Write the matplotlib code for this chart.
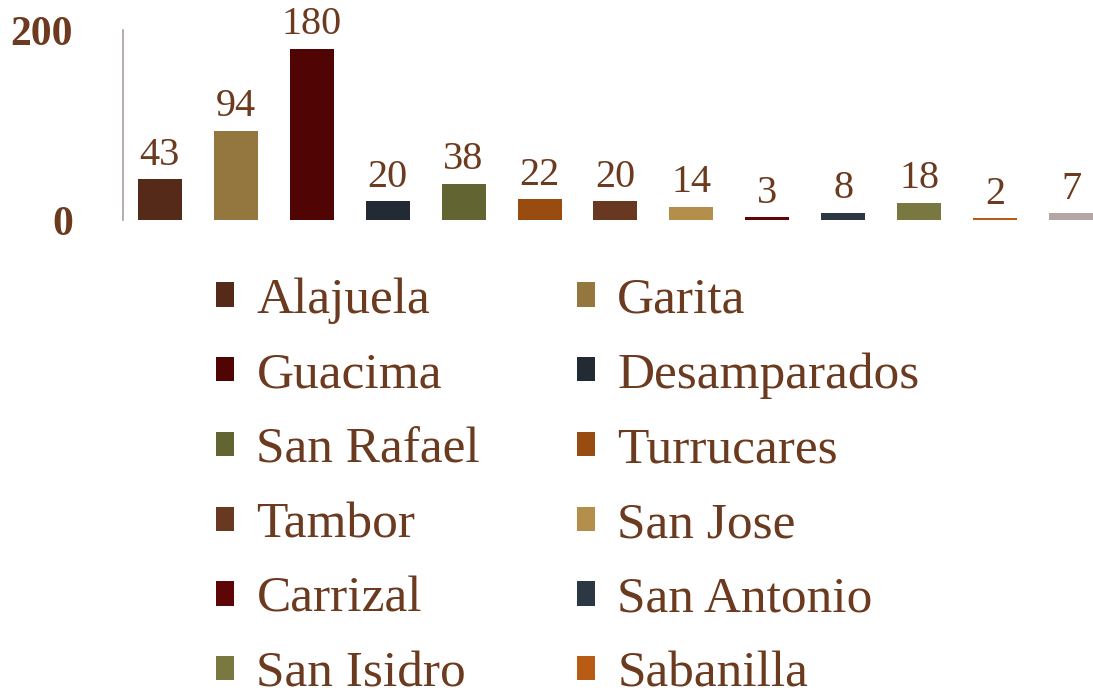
import matplotlib
matplotlib.use("Agg")
import matplotlib.pyplot as plt
import numpy as np

# data
places = ['Alajuela', 'Garita', 'Guacima', 'Desamparados', 'San Rafael',
          'Turrucares', 'Tambor', 'San Jose', 'Carrizal', 'San Antonio',
          'San Isidro', 'Sabanilla', 'Otros']
counts = [43, 94, 180, 20, 38, 22, 20, 14, 3, 8, 18, 2, 7]
colors = ['#552a18', '#93773e', '#500404', '#222b34', '#626432', '#994c0f',
          '#683820', '#b48f4b', '#5d0507', '#2b3843', '#7a7841', '#b85c15',
          '#b2a7a4']
yticks = [0, 200]

text_col = '#6b3a1f'
plt.rcParams['font.family'] = ['Liberation Serif', 'DejaVu Serif']

fig = plt.figure(figsize=(10.93, 6.9), dpi=100)
ax = fig.add_axes([0.1125, 0.681, 0.8875, 0.2755])

x = np.arange(len(counts))
bars = ax.bar(x, counts, width=0.58, color=colors, label=places)

for xi, v in zip(x, counts):
    ax.annotate(str(v), (xi, v), xytext=(0, 4), textcoords='offset points',
                ha='center', va='bottom', fontsize=29, color=text_col)

ax.set_ylim(0, 200)
ax.set_xlim(-0.487, 12.29)
ax.set_yticks(yticks)
ax.set_yticklabels([str(t) for t in yticks], fontsize=30, fontweight='bold',
                   color=text_col)
ax.tick_params(axis='y', length=0, pad=36)
ax.set_xticks([])
for s in ['top', 'right', 'bottom']:
    ax.spines[s].set_visible(False)
ax.spines['left'].set_color('#a8a09e')
ax.spines['left'].set_linewidth(1.2)

# legend fills by column, reorder so it reads row by row
# (only the first 12 entries fit in the visible area)
order = [0, 2, 4, 6, 8, 10, 1, 3, 5, 7, 9, 11]
handles = [bars[i] for i in order]
labels = [places[i] for i in order]
leg = fig.legend(handles, labels, loc='upper left', ncol=2,
                 bbox_to_anchor=(0.198, 0.598), frameon=False, fontsize=37,
                 handlelength=0.35, handleheight=0.35, handletextpad=0.43,
                 columnspacing=1.89, labelspacing=0.55, borderaxespad=0,
                 borderpad=0)
for t in leg.get_texts():
    t.set_color(text_col)

fig.savefig('out.png', dpi=100)
